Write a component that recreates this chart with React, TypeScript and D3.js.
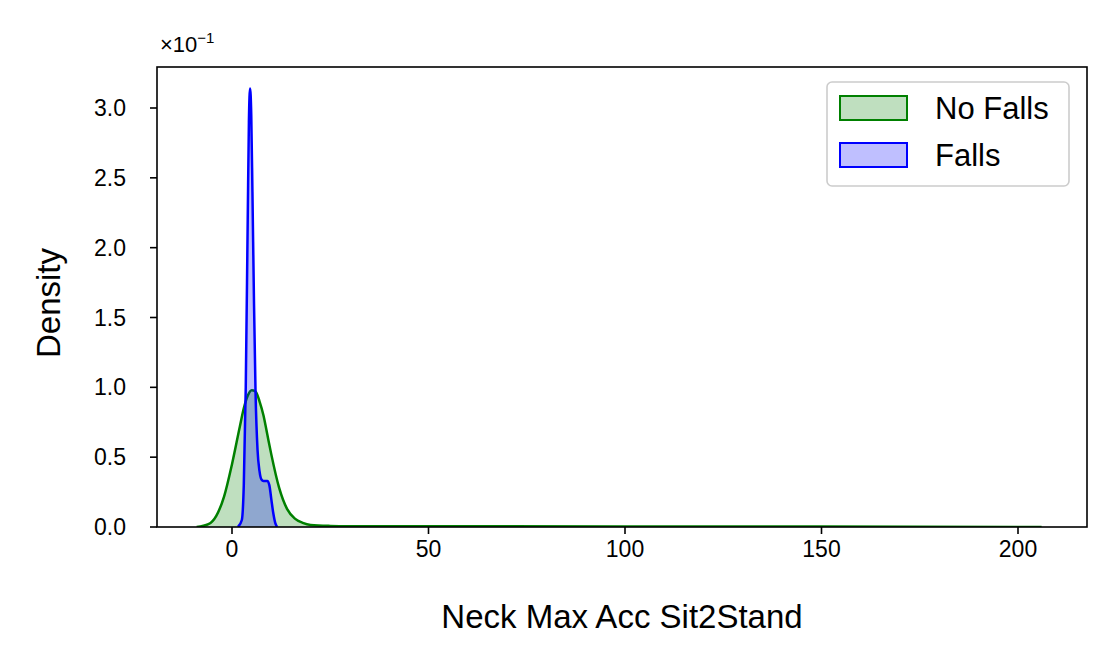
import * as React from 'react';
import * as d3 from 'd3';

// density values in units of 1e-1
const greenX = [-9, -6, -4, -2, 0, 2, 3, 4, 5, 6, 7, 8, 9, 10, 12, 14, 16, 18, 20, 25, 30, 50, 100, 150, 206];
const greenY = [0, 0.02, 0.08, 0.22, 0.45, 0.72, 0.85, 0.94, 0.98, 0.97, 0.9, 0.8, 0.66, 0.52, 0.28, 0.13, 0.06, 0.03, 0.015, 0.008, 0.006, 0.005, 0.004, 0.004, 0];
const blueX = [1.5, 2.5, 3, 3.5, 4, 4.3, 4.6, 4.9, 5.2, 5.6, 6, 6.5, 7, 7.5, 8, 8.5, 9, 9.5, 10, 10.5, 11, 11.5];
const blueY = [0, 0.05, 0.3, 1.0, 2.2, 2.9, 3.14, 2.95, 2.4, 1.6, 0.95, 0.55, 0.4, 0.34, 0.33, 0.33, 0.33, 0.3, 0.2, 0.1, 0.03, 0];
const xTicks = [0, 50, 100, 150, 200];
const yTicks = [0, 0.5, 1.0, 1.5, 2.0, 2.5, 3.0];
const legend = [
  { label: 'No Falls', stroke: 'green', fill: 'rgba(0,128,0,0.25)' },
  { label: 'Falls', stroke: 'blue', fill: 'rgba(0,0,255,0.25)' },
];

export default function App() {
  const L = 157, R = 1087, T = 67, B = 527;
  const x = d3.scaleLinear().domain([0, 200]).range([232, 1018]);
  const y = d3.scaleLinear().domain([0, 3.0]).range([B, 108]);
  const font = 'Liberation Sans, Arial, sans-serif';

  const pts = (xs: number[], ys: number[]) => xs.map((v, i) => [v, ys[i]] as [number, number]);
  const area = d3.area<[number, number]>().x(d => x(d[0])).y0(B).y1(d => y(d[1])).curve(d3.curveMonotoneX);
  const line = d3.line<[number, number]>().x(d => x(d[0])).y(d => y(d[1])).curve(d3.curveMonotoneX);
  const g = pts(greenX, greenY);
  const b = pts(blueX, blueY);

  return (
    <svg width={1116} height={666} style={{ position: 'absolute', left: 0, top: 0, background: '#fff' }} fontFamily={font}>
      <defs>
        <clipPath id="c"><rect x={L} y={T} width={R - L} height={B - T} /></clipPath>
      </defs>
      <g clipPath="url(#c)">
        <path d={area(g) || ''} fill="rgba(0,128,0,0.25)" />
        <path d={line(g) || ''} fill="none" stroke="green" strokeWidth={2.5} />
        <path d={area(b) || ''} fill="rgba(0,0,255,0.25)" />
        <path d={line(b) || ''} fill="none" stroke="blue" strokeWidth={2.5} />
      </g>
      <rect x={L} y={T} width={R - L} height={B - T} fill="none" stroke="#000" strokeWidth={1.6} />
      {xTicks.map(t => (
        <g key={t}>
          <line x1={x(t)} x2={x(t)} y1={B} y2={B + 7} stroke="#000" strokeWidth={1.6} />
          <text x={x(t)} y={B + 30} textAnchor="middle" fontSize={23}>{t}</text>
        </g>
      ))}
      {yTicks.map(t => (
        <g key={t}>
          <line x1={L - 7} x2={L} y1={y(t)} y2={y(t)} stroke="#000" strokeWidth={1.6} />
          <text x={L - 31} y={y(t) + 8} textAnchor="end" fontSize={23}>{t.toFixed(1)}</text>
        </g>
      ))}
      <text x={160} y={52} fontSize={22}>×10<tspan dy={-9} fontSize={15}>−1</tspan></text>
      <text x={622} y={628} textAnchor="middle" fontSize={33}>Neck Max Acc Sit2Stand</text>
      <text transform="translate(60,303) rotate(-90)" textAnchor="middle" fontSize={33}>Density</text>
      <rect x={827} y={82} width={242} height={104} rx={5} fill="#fff" fillOpacity={0.8} stroke="#ccc" strokeWidth={1.6} />
      {legend.map((d, i) => (
        <g key={d.label}>
          <rect x={840} y={96 + i * 47} width={67} height={24} fill={d.fill} stroke={d.stroke} strokeWidth={2} />
          <text x={935} y={119 + i * 47} fontSize={31}>{d.label}</text>
        </g>
      ))}
    </svg>
  );
}
